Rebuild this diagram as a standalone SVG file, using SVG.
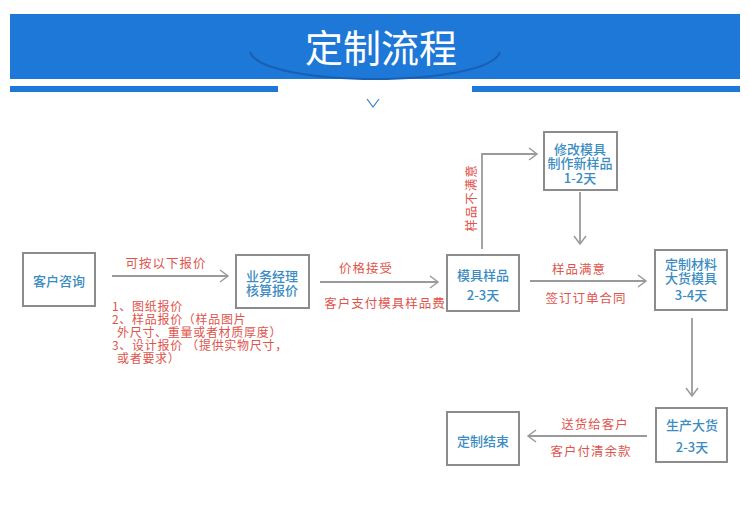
<svg xmlns="http://www.w3.org/2000/svg" width="750" height="522" viewBox="0 0 750 522">
<style>
.box{fill:#fff;stroke:#8c8c8c;stroke-width:2}
.bt{font-family:"Noto Sans CJK SC","Liberation Sans",sans-serif;font-size:13px;fill:#3a8cc2;text-anchor:middle;dominant-baseline:central;font-weight:500}
.rt{font-family:"Noto Sans CJK SC","Liberation Sans",sans-serif;font-size:12.5px;fill:#e0544c;dominant-baseline:central;letter-spacing:1px}
.lt{font-family:"Noto Sans CJK SC","Liberation Sans",sans-serif;font-size:12px;fill:#e0544c;dominant-baseline:central;letter-spacing:0.7px}
.c{text-anchor:middle}
.ln{fill:none;stroke:#9a9a9a;stroke-width:1.8}
</style>
<defs>
<marker id="ah" markerUnits="userSpaceOnUse" markerWidth="12" markerHeight="16" refX="9" refY="7" orient="auto">
<path d="M1,1 L9,7 L1,13" fill="none" stroke="#9a9a9a" stroke-width="1.5"/>
</marker>
</defs>
<rect width="750" height="522" fill="#fff"/>
<g id="header">
<rect x="10" y="14" width="730" height="65" fill="#1e78d8"/>
<path d="M250,52 C262,88 488,88 500,52" fill="none" stroke="#1760b4" stroke-width="2.2"/>
<text x="381" y="45" font-family="Noto Sans CJK SC,sans-serif" font-size="38" fill="#fff" text-anchor="middle" dominant-baseline="central">定制流程</text>
<rect x="10" y="86" width="268" height="6" fill="#1e78d8"/>
<rect x="472" y="86" width="268" height="6" fill="#1e78d8"/>
<path d="M367,99 L373,107 L379,99" fill="none" stroke="#3b7fc8" stroke-width="1.2"/>
</g>
<g id="connectors">
<line class="ln" x1="112" y1="276" x2="228" y2="276" marker-end="url(#ah)"/>
<line class="ln" x1="320" y1="282" x2="438" y2="282" marker-end="url(#ah)"/>
<polyline class="ln" points="482,249 482,154 537,154" marker-end="url(#ah)"/>
<line class="ln" x1="580" y1="192" x2="580" y2="244" marker-end="url(#ah)"/>
<line class="ln" x1="530" y1="281" x2="646" y2="281" marker-end="url(#ah)"/>
<line class="ln" x1="692" y1="318" x2="692" y2="396" marker-end="url(#ah)"/>
<line class="ln" x1="647" y1="436" x2="528" y2="436" marker-end="url(#ah)"/>
<text class="rt c" x="166" y="262">可按以下报价</text>
<text class="lt" x="112" y="305"><tspan x="112" y="305">1、图纸报价</tspan><tspan x="112" y="318">2、样品报价（样品图片</tspan><tspan x="117" y="331">外尺寸、重量或者材质厚度）</tspan><tspan x="112" y="344">3、设计报价 （提供实物尺寸，</tspan><tspan x="117" y="357">或者要求）</tspan></text>
<text class="rt c" x="366" y="267">价格接受</text>
<text class="rt c" x="385" y="302">客户支付模具样品费</text>
<text class="rt c" transform="translate(470,198) rotate(-90)">样品不满意</text>
<text class="rt c" x="579" y="268">样品满意</text>
<text class="rt c" x="586" y="297">签订订单合同</text>
<text class="rt c" x="595" y="423">送货给客户</text>
<text class="rt c" x="591" y="450">客户付清余款</text>
</g>
<g id="n1"><rect class="box" x="23" y="253" width="72" height="53"/><text class="bt" x="59" y="280">客户咨询</text></g>
<g id="n2"><rect class="box" x="236" y="255" width="73" height="53"/><text class="bt" x="272" y="276"><tspan x="272" y="275">业务经理</tspan><tspan x="272" y="289">核算报价</tspan></text></g>
<g id="n3"><rect class="box" x="447" y="255" width="72" height="56"/><text class="bt" x="483" y="274"><tspan x="483" y="274">模具样品</tspan><tspan x="483" y="294">2-3天</tspan></text></g>
<g id="n4"><rect class="box" x="544" y="132" width="73" height="58"/><text class="bt" x="580" y="149"><tspan x="580" y="148">修改模具</tspan><tspan x="580" y="162">制作新样品</tspan><tspan x="580" y="177">1-2天</tspan></text></g>
<g id="n5"><rect class="box" x="655" y="250" width="72" height="60"/><text class="bt" x="691" y="263"><tspan x="691" y="263">定制材料</tspan><tspan x="691" y="277">大货模具</tspan><tspan x="691" y="294">3-4天</tspan></text></g>
<g id="n6"><rect class="box" x="656" y="408" width="71" height="54"/><text class="bt" x="692" y="424"><tspan x="692" y="424">生产大货</tspan><tspan x="692" y="446">2-3天</tspan></text></g>
<g id="n7"><rect class="box" x="447" y="412" width="72" height="53"/><text class="bt" x="483" y="440">定制结束</text></g>
</svg>
